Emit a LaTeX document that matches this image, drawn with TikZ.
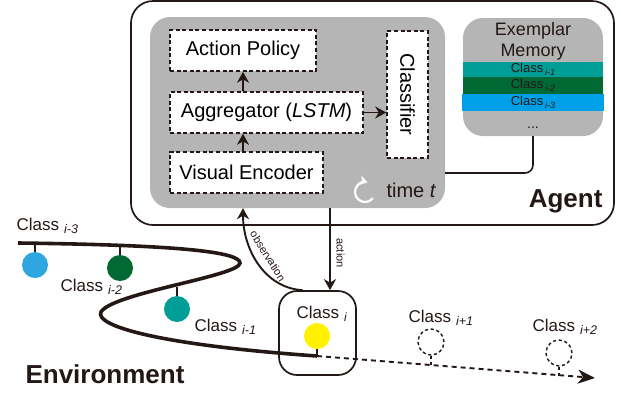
\documentclass[tikz,border=0pt]{standalone}
\usepackage{fontspec}
\setmainfont{Liberation Sans}
\usetikzlibrary{arrows.meta,calc}
\definecolor{ink}{HTML}{231815}
\definecolor{panel}{HTML}{B5B5B5}
\definecolor{envblue}{HTML}{2EA7E0}
\definecolor{dgreen}{HTML}{006934}
\definecolor{tealc}{HTML}{009E96}
\definecolor{memblue}{HTML}{00A0E9}
\definecolor{yel}{HTML}{FFF100}
\newcommand{\fsz}[1]{\fontsize{#1}{#1}\selectfont}
\newcommand{\csub}[3]{\hspace{#3}{\fontsize{#2}{#2}\selectfont\itshape\raisebox{-0.3em}{#1}}}
\tikzset{
  dbox/.style={draw=ink, dash pattern=on 4pt off 2.6pt, line width=1.6pt, fill=white, inner sep=0pt, font=\fsz{20}},
  arr/.style={draw=ink, line width=1.9pt, -{Stealth[length=11pt,width=12pt,inset=3.5pt]}},
  lbl/.style={anchor=base west, text=ink, font=\fsz{17}},
  ball/.style={circle, minimum size=26pt, inner sep=0pt},
  ghost/.style={circle, minimum size=26pt, inner sep=0pt, draw=ink, line width=1.4pt, dash pattern=on 3.2pt off 2.6pt},
  stem/.style={draw=ink, line width=1.4pt},
  band/.style={minimum width=140pt, inner sep=0pt, text=ink, font=\fsz{13}}
}
\begin{document}
\begin{tikzpicture}[x=1pt,y=-1pt]
\useasboundingbox (0,0) rectangle (621,392);
% Agent box
\node[draw=ink, line width=1.7pt, rounded corners=22pt, minimum width=483pt, minimum height=224pt] (agent) at (372.5,113) {};
\node[anchor=base east, text=ink, font=\fsz{26}\bfseries] (agentlbl) at (606,207) {Agent};
% core panel
\node[fill=panel, rounded corners=20pt, minimum width=295pt, minimum height=191pt, inner sep=0pt] (core) at (297.5,112.5) {};
\node[dbox, minimum width=146pt, minimum height=41pt] (ap) at (243,50.5) {Action Policy};
\node[dbox, minimum width=193pt, minimum height=41pt] (agg) at (266.5,112.5) {Aggregator (\textit{LSTM})};
\node[dbox, minimum width=153pt, minimum height=41pt] (ve) at (246.5,172.5) {Visual Encoder};
\node[dbox, minimum width=41pt, minimum height=127pt] (cls) at (407.5,94.5) {\rotatebox{-90}{Classifier}};
\draw[arr] (ap.south |- ve.north) -- (ap.south |- agg.south);
\draw[arr] (ap.south |- agg.north) -- (ap.south);
\draw[arr] (agg.east) -- (cls.west |- agg.east);
% time icon
\coordinate (tc) at (365,192);
\draw[white, line width=2.2pt, -{Stealth[length=8pt,width=10pt,inset=2.5pt]}] ($(tc)+(38:10)$) arc[start angle=38,end angle=285,radius=10];
\node[anchor=base west, text=ink, font=\fsz{20}] (time) at (383,197) {time \textit{t}};
% memory
\node[fill=panel, rounded corners=20pt, minimum width=140pt, minimum height=118pt, inner sep=0pt] (mem) at (533,77) {};
\node[anchor=base, text=ink, font=\fsz{18}] (memt1) at (533,35) {Exemplar};
\node[anchor=base, text=ink, font=\fsz{18}] (memt2) at (533,56) {Memory};
\node[band, fill=tealc, minimum height=15pt] (b1) at (533,69.5) {Class\csub{i-1}{9}{0.15em}};
\node[band, fill=dgreen, minimum height=17pt] (b2) at (533,85.5) {Class\csub{i-2}{9}{0.15em}};
\node[band, fill=memblue, minimum height=17pt, minimum width=142pt] (b3) at (533,102.5) {Class\csub{i-3}{9}{0.15em}};
\node[anchor=base, text=ink, font=\fsz{14}] (dots) at (533,128) {...};
\coordinate (mline) at (500,173);
\draw[ink, line width=1.6pt, rounded corners=8pt] (mem.south) |- (core.east |- mline);
% class i box
\node[draw=ink, line width=1.7pt, rounded corners=18pt, minimum width=77pt, minimum height=84pt] (ci) at (317.5,333) {};
\node[lbl] (lci) at (293,318) {Class\csub{i}{12}{0.3em}};
% action / observation
\coordinate (actx) at (330,0);
\coordinate (obsx) at (243,0);
\draw[arr] (core.south -| actx) -- (ci.north -| actx);
\node[rotate=-90, text=ink, font=\fsz{11}] (actlbl) at (340.5,253) {action};
\draw[arr] ([xshift=-15pt]ci.north) .. controls (265,288) and (243,250) .. (core.south -| obsx);
\node[rotate=-58, text=ink, font=\fsz{11}] (obslbl) at (268,256) {observation};
% environment curve
\draw[ink, line width=3.6pt] (18,243) .. controls (180,245) and (240,252) .. (240,263) .. controls (240,276) and (112,293) .. (101,312) .. controls (94,326) and (160,345) .. (317,356);
\coordinate (envend) at (317,356);
\coordinate (tip) at (595,378);
\draw[ink, line width=1.9pt, dash pattern=on 5pt off 4pt, -{Stealth[length=17pt,width=14pt,inset=5pt]}] (envend) -- (tip);
% balls
\node[ball, fill=envblue] (c3) at (35,265) {};
\draw[stem] (c3.north) -- ++(0,-9);
\node[ball, fill=dgreen] (c2) at (120,268) {};
\draw[stem] (c2.north) -- ++(0,-9);
\node[ball, fill=tealc] (c1) at (177,309) {};
\draw[stem] (c1.north) -- ++(0,-9);
\node[ball, fill=yel] (c0) at (317,336) {};
\draw[stem] (c0.south) -- (envend);
\node[ghost] (cn1) at (431,342) {};
\draw[stem, dash pattern=on 3pt off 3pt] (cn1.south) -- ++(0,9);
\node[ghost] (cn2) at (559,353) {};
\draw[stem, dash pattern=on 3pt off 3pt] (cn2.south) -- ++(0,9);
% labels
\node[lbl] (l3) at (13,230) {Class\csub{i-3}{12.5}{0.3em}};
\node[lbl] (l2) at (57,291) {Class\csub{i-2}{12.5}{0.3em}};
\node[lbl] (l1) at (191,331) {Class\csub{i-1}{12.5}{0.3em}};
\node[lbl] (ln1) at (405,322) {Class\csub{i+1}{12.5}{0.3em}};
\node[lbl] (ln2) at (529,331) {Class\csub{i+2}{12.5}{0.3em}};
\node[anchor=base west, text=ink, font=\fsz{26}\bfseries] (envlbl) at (22,383) {Environment};
\end{tikzpicture}
\end{document}
